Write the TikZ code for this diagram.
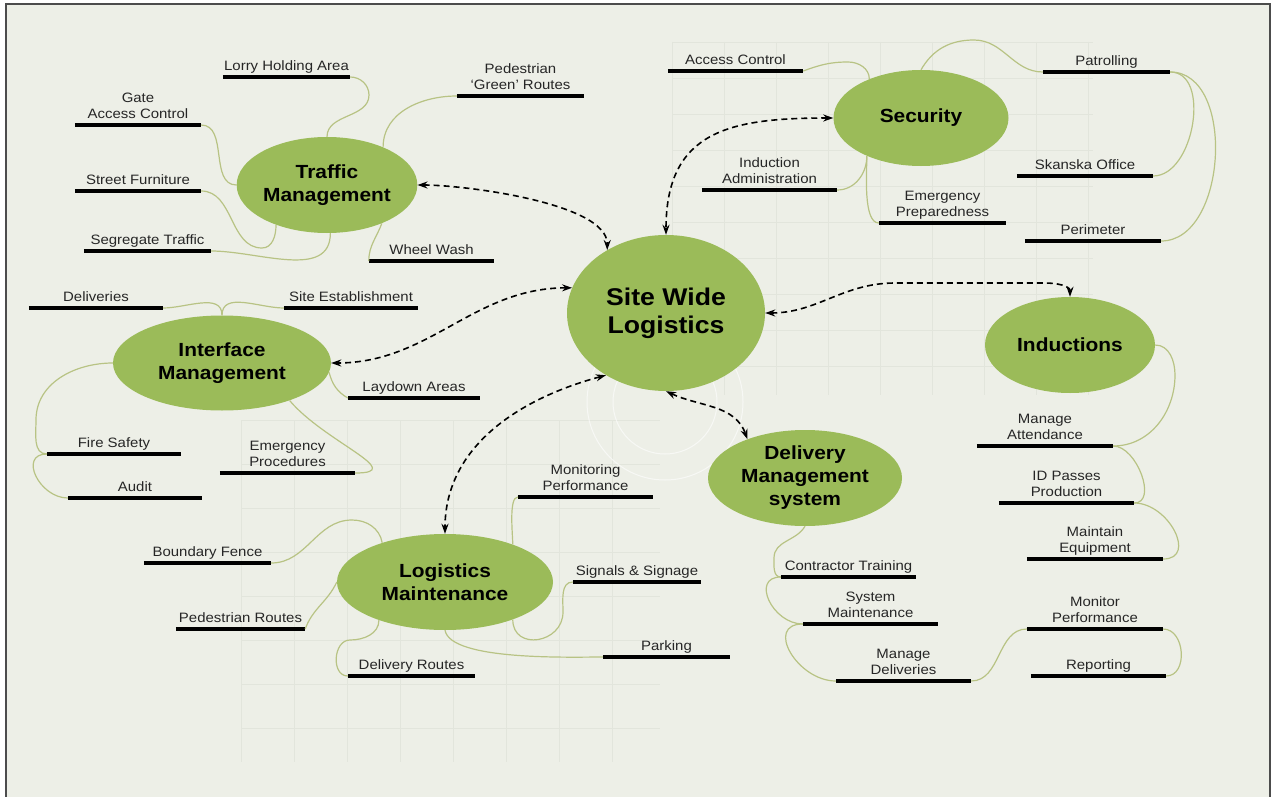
\documentclass[tikz,border=0pt]{standalone}
\usepackage{fontspec}
\setmainfont{Liberation Sans}[FakeStretch=1.1]
\usetikzlibrary{shapes.geometric,arrows.meta}
\definecolor{leaf}{RGB}{155,187,89}
\definecolor{twig}{RGB}{184,195,132}
\definecolor{paper}{RGB}{237,239,231}
\definecolor{gridc}{RGB}{226,229,220}
\tikzset{
  hub/.style={ellipse,fill=leaf,inner sep=0pt,align=center,font=\bfseries\fontsize{19}{23}\selectfont},
  item/.style={align=center,inner xsep=0pt,inner ysep=6pt,text depth=0pt,anchor=south,text=black!85,font=\fontsize{13.6}{16}\selectfont},
  bar/.style={line width=3.5pt},
  branch/.style={draw=twig,line width=1.2pt},
  link/.style={<->,dash pattern=on 6pt off 4pt,line width=1.6pt},
  gridline/.style={draw=gridc,line width=0.6pt}
}
\begin{document}
\begin{tikzpicture}[x=1pt,y=-1pt,>={Stealth[length=10pt,width=7pt]}]
  \useasboundingbox (0,0) rectangle (1271,797);
  \draw[fill=paper,draw=black!70,line width=1.2pt] (6,4) rectangle (1270,802);
  \foreach \x in {672,724,...,1093} \draw[gridline] (\x,42) -- (\x,395);
  \foreach \y in {42,78,...,395} \draw[gridline] (672,\y) -- (1093,\y);
  \foreach \x in {241,294,...,660} \draw[gridline] (\x,420) -- (\x,762);
  \foreach \y in {420,464,...,762} \draw[gridline] (241,\y) -- (660,\y);
  \draw[white,line width=1pt,opacity=0.6] (665,402) circle[radius=52] (665,402) circle[radius=78];

  \node[hub,minimum width=198,minimum height=156,font=\bfseries\fontsize{24.2}{28}\selectfont] (site) at (666,313) {Site Wide\\Logistics};
  \node[hub,minimum width=172,minimum height=96] (traffic) at (327,185) {Traffic\\Management};
  \node[hub,minimum width=175,minimum height=96] (security) at (921,118) {Security};
  \node[hub,minimum width=170,minimum height=96] (induct) at (1070,345) {Inductions};
  \node[hub,minimum width=218,minimum height=95] (iface) at (222,363) {Interface\\Management};
  \node[hub,minimum width=216,minimum height=96] (maint) at (445,582) {Logistics\\Maintenance};
  \node[hub,minimum width=194,minimum height=96] (dms) at (805,478) {Delivery\\Management\\system};

  \foreach \n/\a/\b/\y/\t in {
    lorry/223/350/77/Lorry Holding Area, green/457/584/96/{Pedestrian\\`Green' Routes},
    gate/75/201/125/{Gate\\Access Control}, furniture/75/201/191/Street Furniture,
    segregate/84/211/251/Segregate Traffic, wash/369/494/261/Wheel Wash,
    deliveries/29/163/308/Deliveries, establish/284/418/308/Site Establishment,
    laydown/348/480/398/Laydown Areas, fire/47/181/454/Fire Safety, audit/68/202/498/Audit,
    emproc/220/355/473/{Emergency\\Procedures},
    monperf/518/653/497/{Monitoring\\Performance}, signals/573/701/582/Signals \& Signage,
    parking/603/730/657/Parking, fence/144/271/563/Boundary Fence,
    pedroutes/176/305/629/Pedestrian Routes, delroutes/348/475/676/Delivery Routes,
    access/668/803/71/Access Control, patrol/1043/1170/72/Patrolling,
    admin/702/837/190/{Induction\\Administration}, skanska/1017/1153/176/Skanska Office,
    emprep/879/1006/223/{Emergency\\Preparedness}, perimeter/1025/1161/241/Perimeter,
    attend/977/1113/446/{Manage\\Attendance}, idpass/999/1134/503/{ID Passes\\Production},
    equip/1027/1163/559/{Maintain\\Equipment}, training/781/916/577/Contractor Training,
    sysmaint/803/938/624/{System\\Maintenance}, managedel/836/971/681/{Manage\\Deliveries},
    monitor/1027/1163/629/{Monitor\\Performance}, reporting/1031/1166/676/Reporting}
  {
    \node[item,minimum width=\b-\a] (\n) at ({(\a+\b)/2},\y) {\t};
    \draw[bar] (\n.south west) -- (\n.south east);
  }

  \draw[branch] (lorry.south east) to[out=0,in=90] (369,95) to[out=-90,in=90] (traffic.north);
  \draw[branch] (green.south west) to[out=180,in=90] (traffic.34);
  \draw[branch] (gate.south east) to[out=0,in=180] (traffic.west);
  \draw[branch] (furniture.south east) to[out=0,in=180] (262,248) to[out=0,in=-90] (traffic.218);
  \draw[branch] (segregate.south east) to[out=0,in=-90] (traffic.-86);
  \draw[branch] (wash.south west) to[out=90,in=-110] (traffic.-35);

  \draw[branch] (deliveries.south east) to[out=0,in=90] (iface.north);
  \draw[branch] (establish.south west) to[out=180,in=90] (iface.north);
  \draw[branch] (iface.west) to[out=180,in=90] (36,420) to[out=-90,in=180] (fire.south west);
  \draw[branch] (fire.south west) to[out=180,in=180,looseness=1.5] (audit.south west);
  \draw[branch] (iface.-29) to[out=-50,in=0,looseness=1.4] (emproc.south east);
  \draw[branch] (iface.-5) to[out=-75,in=150] (laydown.south west);

  \draw[branch] (access.south east) to[out=20,in=180] (848,62) to[out=0,in=90] (security.143);
  \draw[branch] (security.north) to[out=60,in=180] (974,40) to[out=0,in=180] (patrol.south west);
  \draw[branch] (patrol.south east) to[out=0,in=0] (skanska.south east);
  \draw[branch] (patrol.south east) to[out=0,in=0] (perimeter.south east);
  \draw[branch] (security.-145) to[out=-90,in=0] (admin.south east);
  \draw[branch] (security.-145) to[out=-90,in=180,looseness=0.6] (emprep.south west);

  \draw[branch] (induct.east) to[out=0,in=90] (1175,375) to[out=-90,in=0] (attend.south east);
  \draw[branch] (attend.south east) to[out=0,in=0] (idpass.south east);
  \draw[branch] (idpass.south east) to[out=0,in=0,looseness=1.4] (equip.south east);

  \draw[branch] (dms.south) to[out=-120,in=90] (774,558) to[out=-90,in=180] (training.south west);
  \draw[branch] (training.south west) to[out=180,in=180,looseness=1.5] (sysmaint.south west);
  \draw[branch] (sysmaint.south west) to[out=180,in=180,looseness=1.5] (managedel.south west);
  \draw[branch] (managedel.south east) to[out=0,in=180] (monitor.south west);
  \draw[branch] (monitor.south east) to[out=0,in=0,looseness=1.2] (reporting.south east);

  \draw[branch] (maint.29) to[out=90,in=180,looseness=0.5] (monperf.south west);
  \draw[branch] (maint.-29) to[out=-90,in=-90,looseness=1.6] (563,612) to[out=90,in=180] (signals.south west);
  \draw[branch] (maint.south) to[out=-80,in=180,looseness=0.5] (parking.south west);
  \draw[branch] (maint.-150) to[out=-90,in=0] (350,640) to[out=180,in=180,looseness=1.2] (delroutes.south west);
  \draw[branch] (maint.west) to[out=-115,in=70] (pedroutes.south east);
  \draw[branch] (maint.148) to[out=100,in=0] (352,520) to[out=180,in=0] (fence.south east);

  \draw[link] (traffic.east) to[out=0,in=90,looseness=0.6] (site.133);
  \draw[link] (site.165) to[out=180,in=0] (iface.east);
  \draw[link] (security.west) to[out=180,in=90,looseness=1.3] (site.north);
  \draw[link] (site.east) to[out=0,in=180] (895,283) -- (1045,283) to[out=0,in=90] (induct.north);
  \draw[link] (site.-134) to[out=195,in=90] (maint.north);
  \draw[link] (site.south) to[out=-25,in=110] (dms.146);
\end{tikzpicture}
\end{document}
